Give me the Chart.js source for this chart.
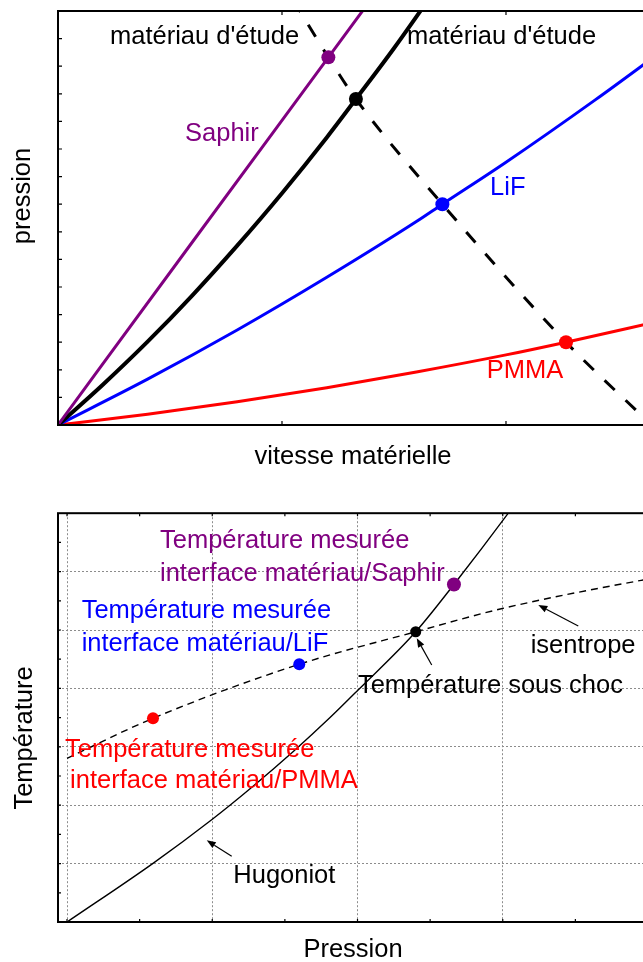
<!DOCTYPE html>
<html><head><meta charset="utf-8">
<script src="https://cdn.jsdelivr.net/npm/chart.js@4.4.0/dist/chart.umd.min.js"></script>
<style>
html,body{margin:0;padding:0;background:#fff;overflow:hidden;width:643px;height:962px;}
#c1{position:absolute;left:0;top:0;}
#c2{position:absolute;left:0;top:480px;}
</style></head><body>
<canvas id="c1" width="660" height="480"></canvas>
<canvas id="c2" width="660" height="482"></canvas>
<script>
// ---------- TOP CHART DATA (pression vs vitesse matérielle) ----------
const saphirCurve = [[0,0],[0.6,6.63],[1.207,13.32],[1.45,16.0]];
const etudeCurve  = [[0,0],[0.2,1.46],[0.4,3.02],[0.6,4.70],[0.8,6.50],[1.0,8.40],[1.2,10.42],[1.33,11.81],[1.5,13.65],[1.7,15.95]];
const lifCurve    = [[0,0],[0.4,1.66],[0.8,3.44],[1.2,5.35],[1.6,7.37],[1.716,8.0],[2.0,9.52],[2.4,11.79],[2.7,13.57]];
const pmmaCurve   = [[0,0],[0.4,0.39],[0.8,0.84],[1.2,1.35],[1.6,1.92],[2.0,2.54],[2.268,3.0],[2.7,3.79]];
const detenteCurve= [[1.05,15.4],[1.207,13.32],[1.33,11.81],[1.716,8.0],[2.268,3.0],[2.65,0.0]];
const topDots     = [[1.207,13.32],[1.33,11.81],[1.716,8.0],[2.268,3.0]];
const topDotColors= ['#800080','#000000','#0000ff','#ff0000'];
const topXTicks = [0,1,2];
const topYTicks = [1,2,3,4,5,6,7,8,9,10,11,12,13,14];
const topLabelTexts = ["matériau d'étude","matériau d'étude","Saphir","LiF","PMMA"];
const topLabelPos   = [[0.232,13.80],[1.558,13.80],[0.567,10.29],[1.929,8.33],[1.914,1.69]];
const topLabelColors= ['#000','#000','#800080','#0000ff','#ff0000'];

// ---------- BOTTOM CHART DATA (Température vs Pression) ----------
const hugoniot  = [[0,0],[0.592,1.005],[0.996,1.752],[1.283,2.33],[1.558,2.92],[1.811,3.50],[1.999,3.96],[2.401,4.97],[2.664,5.78],[3.038,7.0],[3.2,7.56]];
const isentrope = [[0,2.803],[0.592,3.488],[1.599,4.413],[2.401,4.97],[3.004,5.372],[3.966,5.856],[4.0,5.87]];
const botDots   = [[0.592,3.488],[1.599,4.413],[2.401,4.97],[2.664,5.78]];
const botDotColors = ['#ff0000','#0000ff','#000000','#800080'];
const botDotRadius = [6,6,5.5,7];
const botGridX = [0,1,2,3,4];
const botGridY = [1,2,3,4,5,6];
const botXTicks = [0,0.5,1,1.5,2,2.5,3,3.5,4];
const botYTicks = [0.5,1,1.5,2,2.5,3,3.5,4,4.5,5,5.5,6,6.5];
const botLabelTexts = ["Température mesurée","interface matériau/Saphir","Température mesurée","interface matériau/LiF",
  "Température mesurée","interface matériau/PMMA","Hugoniot","Température sous choc","isentrope"];
const botLabelPos = [[0.640,6.399],[0.640,5.839],[0.101,5.200],[0.101,4.640],[-0.014,2.830],[0.021,2.289],[1.145,0.663],[2.003,3.926],[3.192,4.601]];
const botLabelColors = ['#800080','#800080','#0000ff','#0000ff','#ff0000','#ff0000','#000','#000','#000'];
const botArrows = [[[1.134,1.125],[0.962,1.399]],[[2.511,4.401],[2.408,4.858]],[[3.520,5.068],[3.245,5.428]]];

const FONT = '25.5px "Liberation Sans", Arial, Helvetica, sans-serif';
const xy = a => a.map(p => ({x:p[0], y:p[1]}));

const decor = {
  id:'decor',
  afterDatasetsDraw(chart, args, o){
    const {ctx, chartArea:a, scales:{x, y}} = chart;
    ctx.save();
    // inner tick marks
    ctx.strokeStyle='#000'; ctx.lineWidth=1.2;
    ctx.beginPath();
    o.xTicks.forEach(v=>{const px=x.getPixelForValue(v);
      ctx.moveTo(px,a.bottom); ctx.lineTo(px,a.bottom-o.tickLen);
      ctx.moveTo(px,a.top); ctx.lineTo(px,a.top+o.tickLen);});
    o.yTicks.forEach(v=>{const py=y.getPixelForValue(v);
      ctx.moveTo(a.left,py); ctx.lineTo(a.left+o.tickLen,py);
      ctx.moveTo(a.right,py); ctx.lineTo(a.right-o.tickLen,py);});
    ctx.stroke();
    // frame
    ctx.lineWidth=2; ctx.strokeRect(a.left,a.top,a.right-a.left,a.bottom-a.top);
    // arrows
    (o.arrows||[]).forEach(ar=>{
      const x1=x.getPixelForValue(ar[0][0]), y1=y.getPixelForValue(ar[0][1]);
      const x2=x.getPixelForValue(ar[1][0]), y2=y.getPixelForValue(ar[1][1]);
      const ang=Math.atan2(y2-y1,x2-x1), L=9, W=3.5;
      const bx=x2-L*Math.cos(ang), by=y2-L*Math.sin(ang);
      ctx.lineWidth=1.2; ctx.beginPath(); ctx.moveTo(x1,y1); ctx.lineTo(bx,by); ctx.stroke();
      ctx.fillStyle='#000'; ctx.beginPath(); ctx.moveTo(x2,y2);
      ctx.lineTo(bx+W*Math.sin(ang), by-W*Math.cos(ang));
      ctx.lineTo(bx-W*Math.sin(ang), by+W*Math.cos(ang)); ctx.closePath(); ctx.fill();
    });
    // labels
    ctx.font=FONT; ctx.textAlign='left'; ctx.textBaseline='alphabetic';
    o.labels.forEach((t,i)=>{ctx.fillStyle=o.labelColors[i];
      ctx.fillText(t, x.getPixelForValue(o.labelPos[i][0]), y.getPixelForValue(o.labelPos[i][1]));});
    // axis titles
    ctx.fillStyle='#000'; ctx.textAlign='center';
    ctx.fillText(o.xTitle, (a.left+a.right)/2, o.xTitleBase);
    ctx.translate(o.yTitleBase, o.yTitleCenter); ctx.rotate(-Math.PI/2);
    ctx.fillText(o.yTitle, 0, 0);
    ctx.restore();
  }
};

const lineDs = (d, color, w, dash, order) => ({data:xy(d), showLine:true, borderColor:color, borderWidth:w,
  borderDash:dash||[], pointRadius:0, cubicInterpolationMode:'monotone', clip:0, order:order||5, fill:false});

// ---------- TOP CHART ----------
new Chart(document.getElementById('c1'), {
  type:'scatter',
  data:{datasets:[
    {data:xy(topDots), showLine:false, pointRadius:7, pointBackgroundColor:topDotColors, pointBorderWidth:0, order:0},
    lineDs(detenteCurve,'#000',3,[14,15],2),
    lineDs(saphirCurve,'#800080',3),
    lineDs(etudeCurve,'#000',4),
    lineDs(lifCurve,'#0000ff',3),
    lineDs(pmmaCurve,'#ff0000',3)
  ]},
  options:{
    responsive:false, animation:false, events:[],
    layout:{padding:{left:58, top:11, right:12, bottom:55}},
    plugins:{legend:{display:false}, tooltip:{enabled:false},
      decor:{xTicks:topXTicks, yTicks:topYTicks, tickLen:4,
        labels:topLabelTexts, labelPos:topLabelPos, labelColors:topLabelColors,
        xTitle:'vitesse matérielle', xTitleBase:464, yTitle:'pression', yTitleBase:30, yTitleCenter:196}},
    scales:{x:{type:'linear', min:0, max:2.634, display:false}, y:{type:'linear', min:0, max:15, display:false}}
  },
  plugins:[decor]
});

// ---------- BOTTOM CHART ----------
const gridAxis = (min, max, vals) => ({type:'linear', min, max, display:true,
  ticks:{display:false}, grid:{color:'#8c8c8c', lineWidth:1, drawTicks:false},
  border:{display:false, dash:[2,2]},
  afterBuildTicks: s => { s.ticks = vals.map(v => ({value:v})); }});

new Chart(document.getElementById('c2'), {
  type:'scatter',
  data:{datasets:[
    {data:xy(botDots), showLine:false, pointRadius:botDotRadius, pointBackgroundColor:botDotColors, pointBorderWidth:0, order:0},
    lineDs(hugoniot,'#000',1.4),
    lineDs(isentrope,'#000',1.4,[7,5])
  ]},
  options:{
    responsive:false, animation:false, events:[],
    layout:{padding:{left:58, top:33.2, right:12, bottom:40}},
    plugins:{legend:{display:false}, tooltip:{enabled:false},
      decor:{xTicks:botXTicks, yTicks:botYTicks, tickLen:3, arrows:botArrows,
        labels:botLabelTexts, labelPos:botLabelPos, labelColors:botLabelColors,
        xTitle:'Pression', xTitleBase:477, yTitle:'Température', yTitleBase:32, yTitleCenter:258}},
    scales:{x:gridAxis(-0.062, 4, botGridX), y:gridAxis(0, 7, botGridY)}
  },
  plugins:[decor]
});
</script>
</body></html>
